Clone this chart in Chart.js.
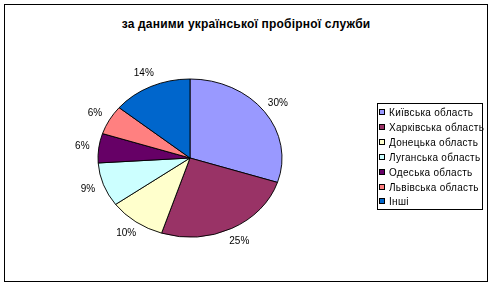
<!DOCTYPE html>
<html>
<head>
<meta charset="utf-8">
<script src="https://cdn.jsdelivr.net/npm/chart.js@4"></script>
<style>
  body { margin: 0; background: #fff; }
  #wrap { position: relative; width: 492px; height: 285px; font-family: "Liberation Sans", Arial, sans-serif; }
  #frame { position: absolute; left: 4px; top: 4px; width: 482px; height: 276px; border: 1px solid #000; }
  #title { position: absolute; left: 4px; width: 484px; top: 17px; text-align: center; font-weight: bold; font-size: 12px; letter-spacing: 0.2px; }
  #chart { position: absolute; left: 0; top: 0; }
  #legend { position: absolute; left: 377px; top: 103px; width: 104px; height: 105px; border: 1px solid #000; background: #fff; font-size: 10px; letter-spacing: 0.3px; }
  .item { position: absolute; left: 1px; height: 12px; line-height: 12px; white-space: nowrap; }
  .sw { display: inline-block; width: 4px; height: 4px; border: 1px solid #000; margin-right: 4px; vertical-align: 1px; }
</style>
</head>
<body>
<div id="wrap">
  <div id="frame"></div>
  <div id="title">за даними української пробірної служби</div>
  <canvas id="chart" width="492" height="285"></canvas>
  <div id="legend"></div>
</div>
<script>
const regions = ['Київська область', 'Харківська область', 'Донецька область', 'Луганська область', 'Одеська область', 'Львівська область', 'Інші'];
const shares = [30, 25, 10, 9, 6, 6, 14];
const colors = ['#9999FF', '#993366', '#FFFFCC', '#CCFFFF', '#660066', '#FF8080', '#0066CC'];

const squash = 79 / 92; // pie in the reference is an ellipse

// legend in html
const legend = document.getElementById('legend');
regions.forEach((name, i) => {
    const row = document.createElement('div');
    row.className = 'item';
    row.style.top = (3 + i * 14.9) + 'px';
    row.innerHTML = '<span class="sw" style="background:' + colors[i] + '"></span>' + name;
    legend.appendChild(row);
});

const ellipse = {
    id: 'ellipse',
    beforeDatasetsDraw(chart) {
        const arc = chart.getDatasetMeta(0).data[0];
        const ctx = chart.ctx;
        ctx.save();
        ctx.translate(arc.x, arc.y);
        ctx.scale(1, squash);
        ctx.translate(-arc.x, -arc.y);
    },
    afterDatasetsDraw(chart) {
        chart.ctx.restore();
    }
};

const pctLabels = {
    id: 'pctLabels',
    afterDraw(chart) {
        const ctx = chart.ctx;
        ctx.save();
        ctx.font = '10px "Liberation Sans", Arial, sans-serif';
        ctx.fillStyle = '#000';
        ctx.textAlign = 'center';
        ctx.textBaseline = 'middle';
        chart.getDatasetMeta(0).data.forEach((arc, i) => {
            const a = (arc.startAngle + arc.endAngle) / 2;
            const r = arc.outerRadius * 1.18;
            ctx.fillText(shares[i] + '%', arc.x + Math.cos(a) * r, arc.y + Math.sin(a) * r * squash);
        });
        ctx.restore();
    }
};

new Chart(document.getElementById('chart'), {
    type: 'pie',
    data: {
        labels: regions,
        datasets: [{
            data: shares,
            backgroundColor: colors,
            borderColor: '#000',
            borderWidth: 1
        }]
    },
    options: {
        responsive: false,
        animation: false,
        radius: 92,
        layout: { padding: { left: 98, right: 210, top: 66, bottom: 35 } },
        plugins: {
            legend: { display: false },
            title: { display: false },
            tooltip: { enabled: false }
        }
    },
    plugins: [ellipse, pctLabels]
});
</script>
</body>
</html>
